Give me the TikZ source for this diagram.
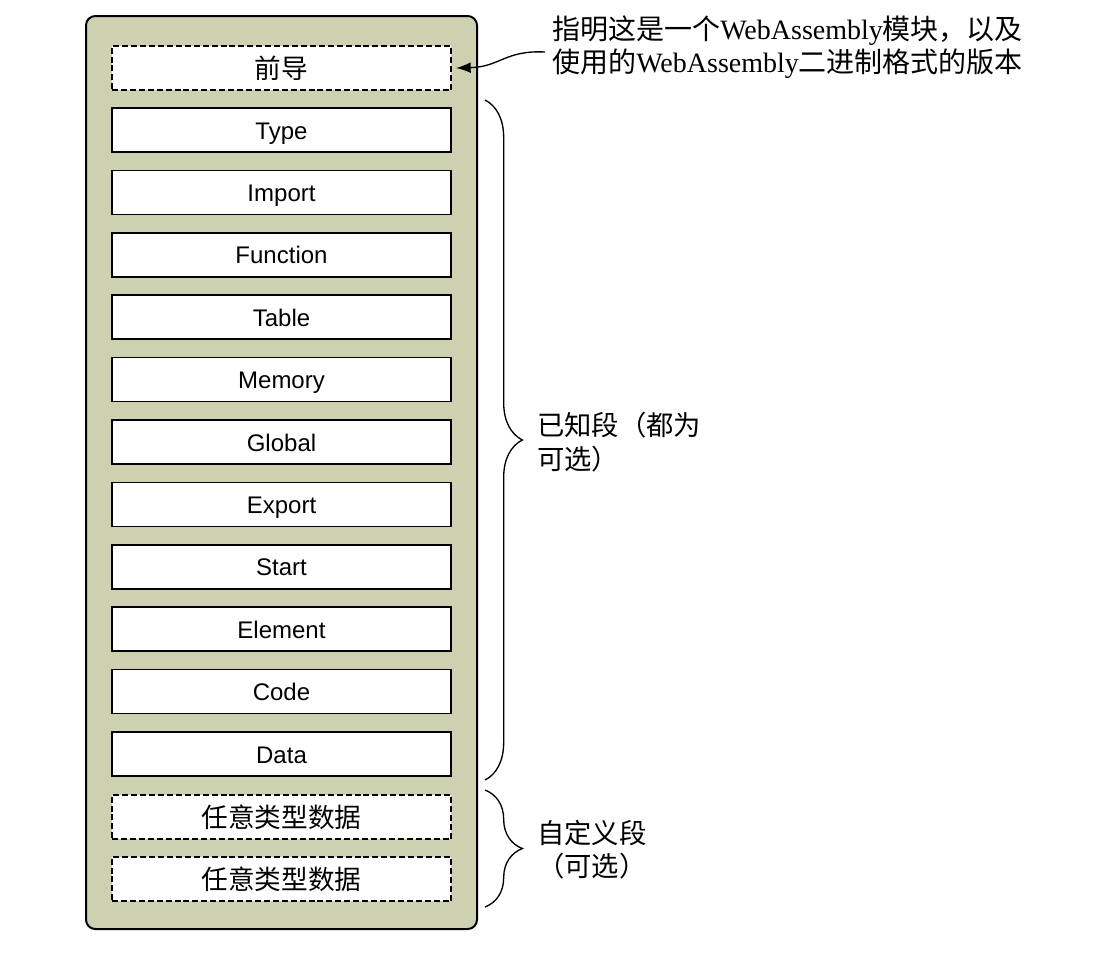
\documentclass[tikz,border=0pt]{standalone}
\usepackage{fontspec}
\setmainfont{Liberation Serif}
\newfontfamily\cjk{Noto Sans CJK SC}
\newfontfamily\arialfont{Liberation Sans}
\usetikzlibrary{arrows.meta,decorations.pathreplacing}
\definecolor{modulefill}{RGB}{205,209,175}
\tikzset{
  module/.style={draw=black, line width=1.5pt, fill=modulefill, rounded corners=7pt},
  section/.style={draw=black, line width=1.1pt, fill=white, inner sep=0pt,
    minimum width=254.25pt, minimum height=33pt, text height=13.5pt, text depth=0pt,
    font=\arialfont\fontsize{18}{20}\selectfont},
  optsection/.style={draw=black, line width=1.1pt, fill=white, inner sep=0pt,
    minimum width=254.25pt, minimum height=33pt,
    dashed, dash pattern=on 4.5pt off 2.2pt,
    font=\cjk\fontsize{20}{22}\selectfont},
  bracket/.style={draw=black, line width=1pt, decorate,
    decoration={brace, amplitude=28pt}},
  note/.style={inner sep=0pt, align=left, anchor=west,
    font=\cjk\fontsize{20.5}{25}\selectfont},
  pointer/.style={draw=black, line width=1pt, -{Latex[length=11pt,width=8pt]}}
}
\begin{document}
\begin{tikzpicture}[x=0.75pt, y=-0.75pt]
  \useasboundingbox (0,0) rectangle (1120,957);

  % module frame
  \draw[module] (86,16) rectangle (477,929);

  % sections
  \node[optsection] (pre) at (281.5,68) {前导};
  \node[section] (type) at (281.5,130) {Type};
  \node[section] (import) at (281.5,192.4) {Import};
  \node[section] (function) at (281.5,254.8) {Function};
  \node[section] (table) at (281.5,317.2) {Table};
  \node[section] (memory) at (281.5,379.6) {Memory};
  \node[section] (global) at (281.5,442) {Global};
  \node[section] (export) at (281.5,504.4) {Export};
  \node[section] (start) at (281.5,566.8) {Start};
  \node[section] (element) at (281.5,629.2) {Element};
  \node[section] (code) at (281.5,691.6) {Code};
  \node[section] (data) at (281.5,754) {Data};
  \node[optsection] (custom1) at (281.5,817) {任意类型数据};
  \node[optsection] (custom2) at (281.5,879) {任意类型数据};

  % preamble note
  \node[note, font=\fontsize{21}{25}\selectfont] (prenote) at (552,47)
    {{\cjk 指明这是一个}WebAssembly{\cjk 模块，以及}\\
     {\cjk 使用的}WebAssembly{\cjk 二进制格式的版本}};
  \coordinate (notestart) at (545,52);
  \draw[pointer] (notestart) .. controls (505,50) and (500,67) .. (pre.east -| 456,0);

  % braces
  \coordinate (knowntop) at (485,100);
  \coordinate (knownbot) at (485,780);
  \coordinate (customtop) at (485,790);
  \coordinate (custombot) at (485,907);
  \draw[bracket] (knowntop) -- (knownbot);
  \draw[bracket] (customtop) -- (custombot);

  \node[note] (knownlabel) at (537,442) {已知段（都为\\可选）};
  \node[note] (customlabel) at (537,850) {自定义段\\（可选）};
\end{tikzpicture}
\end{document}
